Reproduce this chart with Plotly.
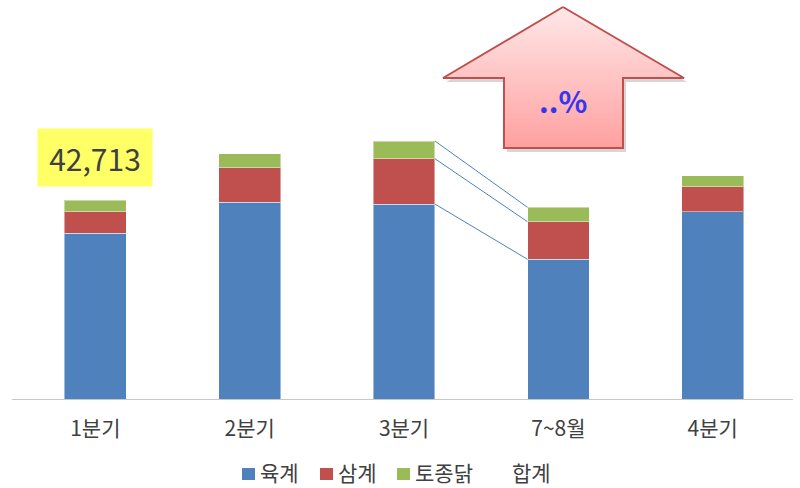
import plotly.graph_objects as go

categories = ["1분기", "2분기", "3분기", "7~8월", "4분기"]
broiler = [35570, 42220, 41850, 29980, 40200]      # 육계
samgye = [4640, 7430, 9720, 8070, 5370]            # 삼계
native = [2503, 2940, 3800, 3090, 2300]            # 토종닭
series_names = ["육계", "삼계", "토종닭", "합계"]
arrow_text = "..%"

totals = [a + b + c for a, b, c in zip(broiler, samgye, native)]
xs = list(range(len(categories)))

W, H = 800, 488
FONT = "Noto Sans CJK KR, Noto Sans, sans-serif"
BAR_W = 0.4
colors = ["#4F81BD", "#C0504D", "#9BBB59", "rgba(0,0,0,0)"]

fig = go.Figure()
for name, vals, col in zip(series_names[:3], [broiler, samgye, native], colors):
    fig.add_trace(go.Bar(
        x=xs, y=vals, name=name, width=BAR_W, showlegend=False,
        marker=dict(color=col, line=dict(color="rgba(255,255,255,0.45)", width=1)),
        xaxis="x", yaxis="y",
    ))

# series lines between 3분기 and 7~8월
i, j = 2, 3
cum_i = [broiler[i], broiler[i] + samgye[i], totals[i]]
cum_j = [broiler[j], broiler[j] + samgye[j], totals[j]]
for a, b in zip(cum_i, cum_j):
    fig.add_trace(go.Scatter(
        x=[i + BAR_W / 2, j - BAR_W / 2], y=[a, b], mode="lines",
        line=dict(color="#4F81BD", width=1), showlegend=False, hoverinfo="skip",
        xaxis="x", yaxis="y",
    ))

# arrow (decoration in pixel coordinates on a full-page helper axis pair)
ax_pts = [(563, 7), (684, 78), (623, 78), (623, 148), (504, 148), (504, 78), (443, 78), (563, 7)]
sx = [p[0] + 3 for p in ax_pts]
sy = [H - (p[1] + 4) for p in ax_pts]
fig.add_trace(go.Scatter(
    x=sx, y=sy, mode="lines", fill="toself", fillcolor="rgba(0,0,0,0.16)",
    line=dict(width=0, color="rgba(0,0,0,0)"), showlegend=False, hoverinfo="skip",
    xaxis="x2", yaxis="y2",
))
fig.add_trace(go.Scatter(
    x=[p[0] for p in ax_pts], y=[H - p[1] for p in ax_pts], mode="lines", fill="toself",
    fillgradient=dict(type="vertical", colorscale=[[0, "#FFA0A0"], [1, "#FFE8E8"]]),
    line=dict(color="#C0504D", width=2), showlegend=False, hoverinfo="skip",
    xaxis="x2", yaxis="y2",
))

ymax = 399 * totals[0] / 199.0
fig.update_layout(
    width=W, height=H,
    margin=dict(l=0, r=0, t=0, b=0),
    paper_bgcolor="white", plot_bgcolor="rgba(0,0,0,0)",
    barmode="stack",
    font=dict(family=FONT, color="#404040"),
    showlegend=False,
    xaxis=dict(domain=[12 / W, 793 / W], range=[-0.54, 4.52], tickmode="array",
               tickvals=xs, ticktext=categories, showgrid=False, zeroline=False,
               showline=True, linecolor="#C8C8C8", linewidth=1, ticks="",
               ticklabelstandoff=11,
               tickfont=dict(size=21, color="#404040", family=FONT), anchor="y"),
    yaxis=dict(domain=[(H - 399) / H, 1], range=[0, ymax], visible=False, showgrid=False,
               zeroline=False),
    xaxis2=dict(domain=[0, 1], range=[0, W], visible=False, anchor="y2"),
    yaxis2=dict(domain=[0, 1], range=[0, H], visible=False, anchor="x2"),
)

# legend (manual, to match the tight symbol/text spacing)
legend_sym_x = [242, 320, 397, 494]
for name, col, lx in zip(series_names, colors, legend_sym_x):
    fig.add_shape(type="rect", xref="paper", yref="paper", x0=lx / W, x1=(lx + 13) / W,
                  y0=(H - 480) / H, y1=(H - 468) / H, fillcolor=col, line=dict(width=0))
    fig.add_annotation(x=(lx + 16) / W, y=(H - 472) / H, xref="paper", yref="paper", text=name,
                       showarrow=False, xanchor="left", yanchor="middle",
                       font=dict(size=21, color="#404040", family=FONT))

fig.add_annotation(
    x=0, y=ymax * (241.5 / 399), xref="x", yref="y",
    text=f"{totals[0]:,}", showarrow=False, bgcolor="#FFFF66",
    width=112, height=55, font=dict(size=30, color="#404040", family=FONT),
)
fig.add_annotation(
    x=563, y=H - 100, xref="x2", yref="y2", text=f"<b>{arrow_text}</b>", showarrow=False,
    font=dict(size=30, color="#3636F0", family=FONT),
)

fig.write_html("out.html", post_script="document.body.style.margin='0';",
               config={"displayModeBar": False})
